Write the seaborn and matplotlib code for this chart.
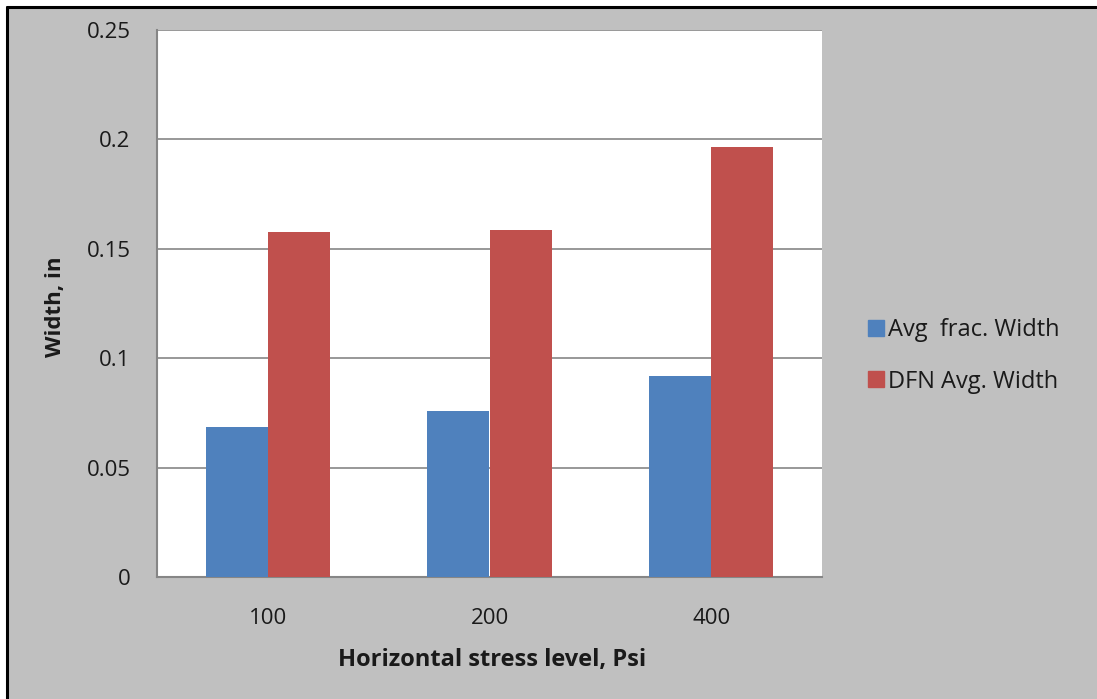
import matplotlib
matplotlib.use("Agg")
import matplotlib.pyplot as plt
import seaborn as sns
import pandas as pd
from matplotlib.lines import Line2D

categories = ["100", "200", "400"]
avg_frac_width = [0.0686, 0.0759, 0.0919]
dfn_avg_width = [0.1577, 0.1586, 0.1965]
series_names = ["Avg  frac. Width", "DFN Avg. Width"]
y_ticks = [0, 0.05, 0.1, 0.15, 0.2, 0.25]
y_tick_labels = ["0", "0.05", "0.1", "0.15", "0.2", "0.25"]

df = pd.DataFrame({
    "cat": categories * 2,
    "val": avg_frac_width + dfn_avg_width,
    "series": [series_names[0]] * 3 + [series_names[1]] * 3,
})

sns.set_style("white")
plt.rcParams["font.family"] = ["Open Sans", "DejaVu Sans"]

bg = "#c0c0c0"
txt = "#1a1a1a"
fig = plt.figure(figsize=(10.97, 6.99), dpi=100, facecolor=bg)
ax = fig.add_axes([157 / 1097, 1 - 577 / 699, 665 / 1097, 547 / 699])
ax.set_facecolor("white")

palette = {series_names[0]: "#4f81bd", series_names[1]: "#c0504d"}
sns.barplot(data=df, x="cat", y="val", hue="series", palette=palette,
            width=0.56, gap=0, saturation=1, ax=ax, legend=False, zorder=3,
            linewidth=0)

ax.set_xlim(-0.5, 2.5)
ax.set_ylim(0, 0.25)
ax.set_yticks(y_ticks)
ax.set_yticklabels(y_tick_labels)
ax.yaxis.grid(True, color="#868686", linewidth=1.2, zorder=0)
ax.set_axisbelow(True)

ax.set_xticks([-0.5, 0.5, 1.5, 2.5])
ax.set_xticklabels([])
ax.set_xticks([0, 1, 2], minor=True)
ax.set_xticklabels(categories, minor=True)
ax.tick_params(axis="x", which="major", length=7, width=1.2, color="#868686", direction="out")
ax.tick_params(axis="x", which="minor", length=0, pad=22, labelsize=16, labelcolor=txt)
ax.tick_params(axis="y", length=9, width=1.2, color="#868686", direction="out",
               labelsize=16, labelcolor=txt, pad=10)

for s in ["top", "right"]:
    ax.spines[s].set_visible(False)
for s in ["left", "bottom"]:
    ax.spines[s].set_color("#868686")
    ax.spines[s].set_linewidth(1.5)

ax.set_xlabel("")
ax.set_ylabel("")
fig.text(492 / 1097, 1 - 660 / 699, "Horizontal stress level, Psi", ha="center", va="center",
         fontsize=17, fontweight="bold", color=txt)
fig.text(55 / 1097, 1 - 307 / 699, "Width, in", ha="center", va="center", rotation=90,
         fontsize=16, fontweight="bold", color=txt)

handles = [Line2D([0], [0], marker="s", linestyle="none", markersize=11,
                  markerfacecolor=palette[n], markeredgecolor=palette[n]) for n in series_names]
fig.legend(handles, series_names, loc="center left", bbox_to_anchor=(843 / 1097, 1 - 356 / 699),
           frameon=False, fontsize=17, labelspacing=1.15, handletextpad=0.0, handlelength=1.0,
           labelcolor=txt)

# figure border (left and top)
fig.add_artist(Line2D([7 / 1097, 7 / 1097], [0, 1 - 7 / 699], transform=fig.transFigure,
                      color="black", linewidth=2.2))
fig.add_artist(Line2D([7 / 1097, 1096 / 1097], [1 - 7 / 699, 1 - 7 / 699], transform=fig.transFigure,
                      color="black", linewidth=2.2))
fig.patches.append(plt.Rectangle((0, 0), 6 / 1097, 1, transform=fig.transFigure, color="white", zorder=-1))
fig.patches.append(plt.Rectangle((0, 1 - 6 / 699), 1, 6 / 699, transform=fig.transFigure, color="white", zorder=-1))

fig.savefig("out.png", dpi=100, facecolor=bg)
